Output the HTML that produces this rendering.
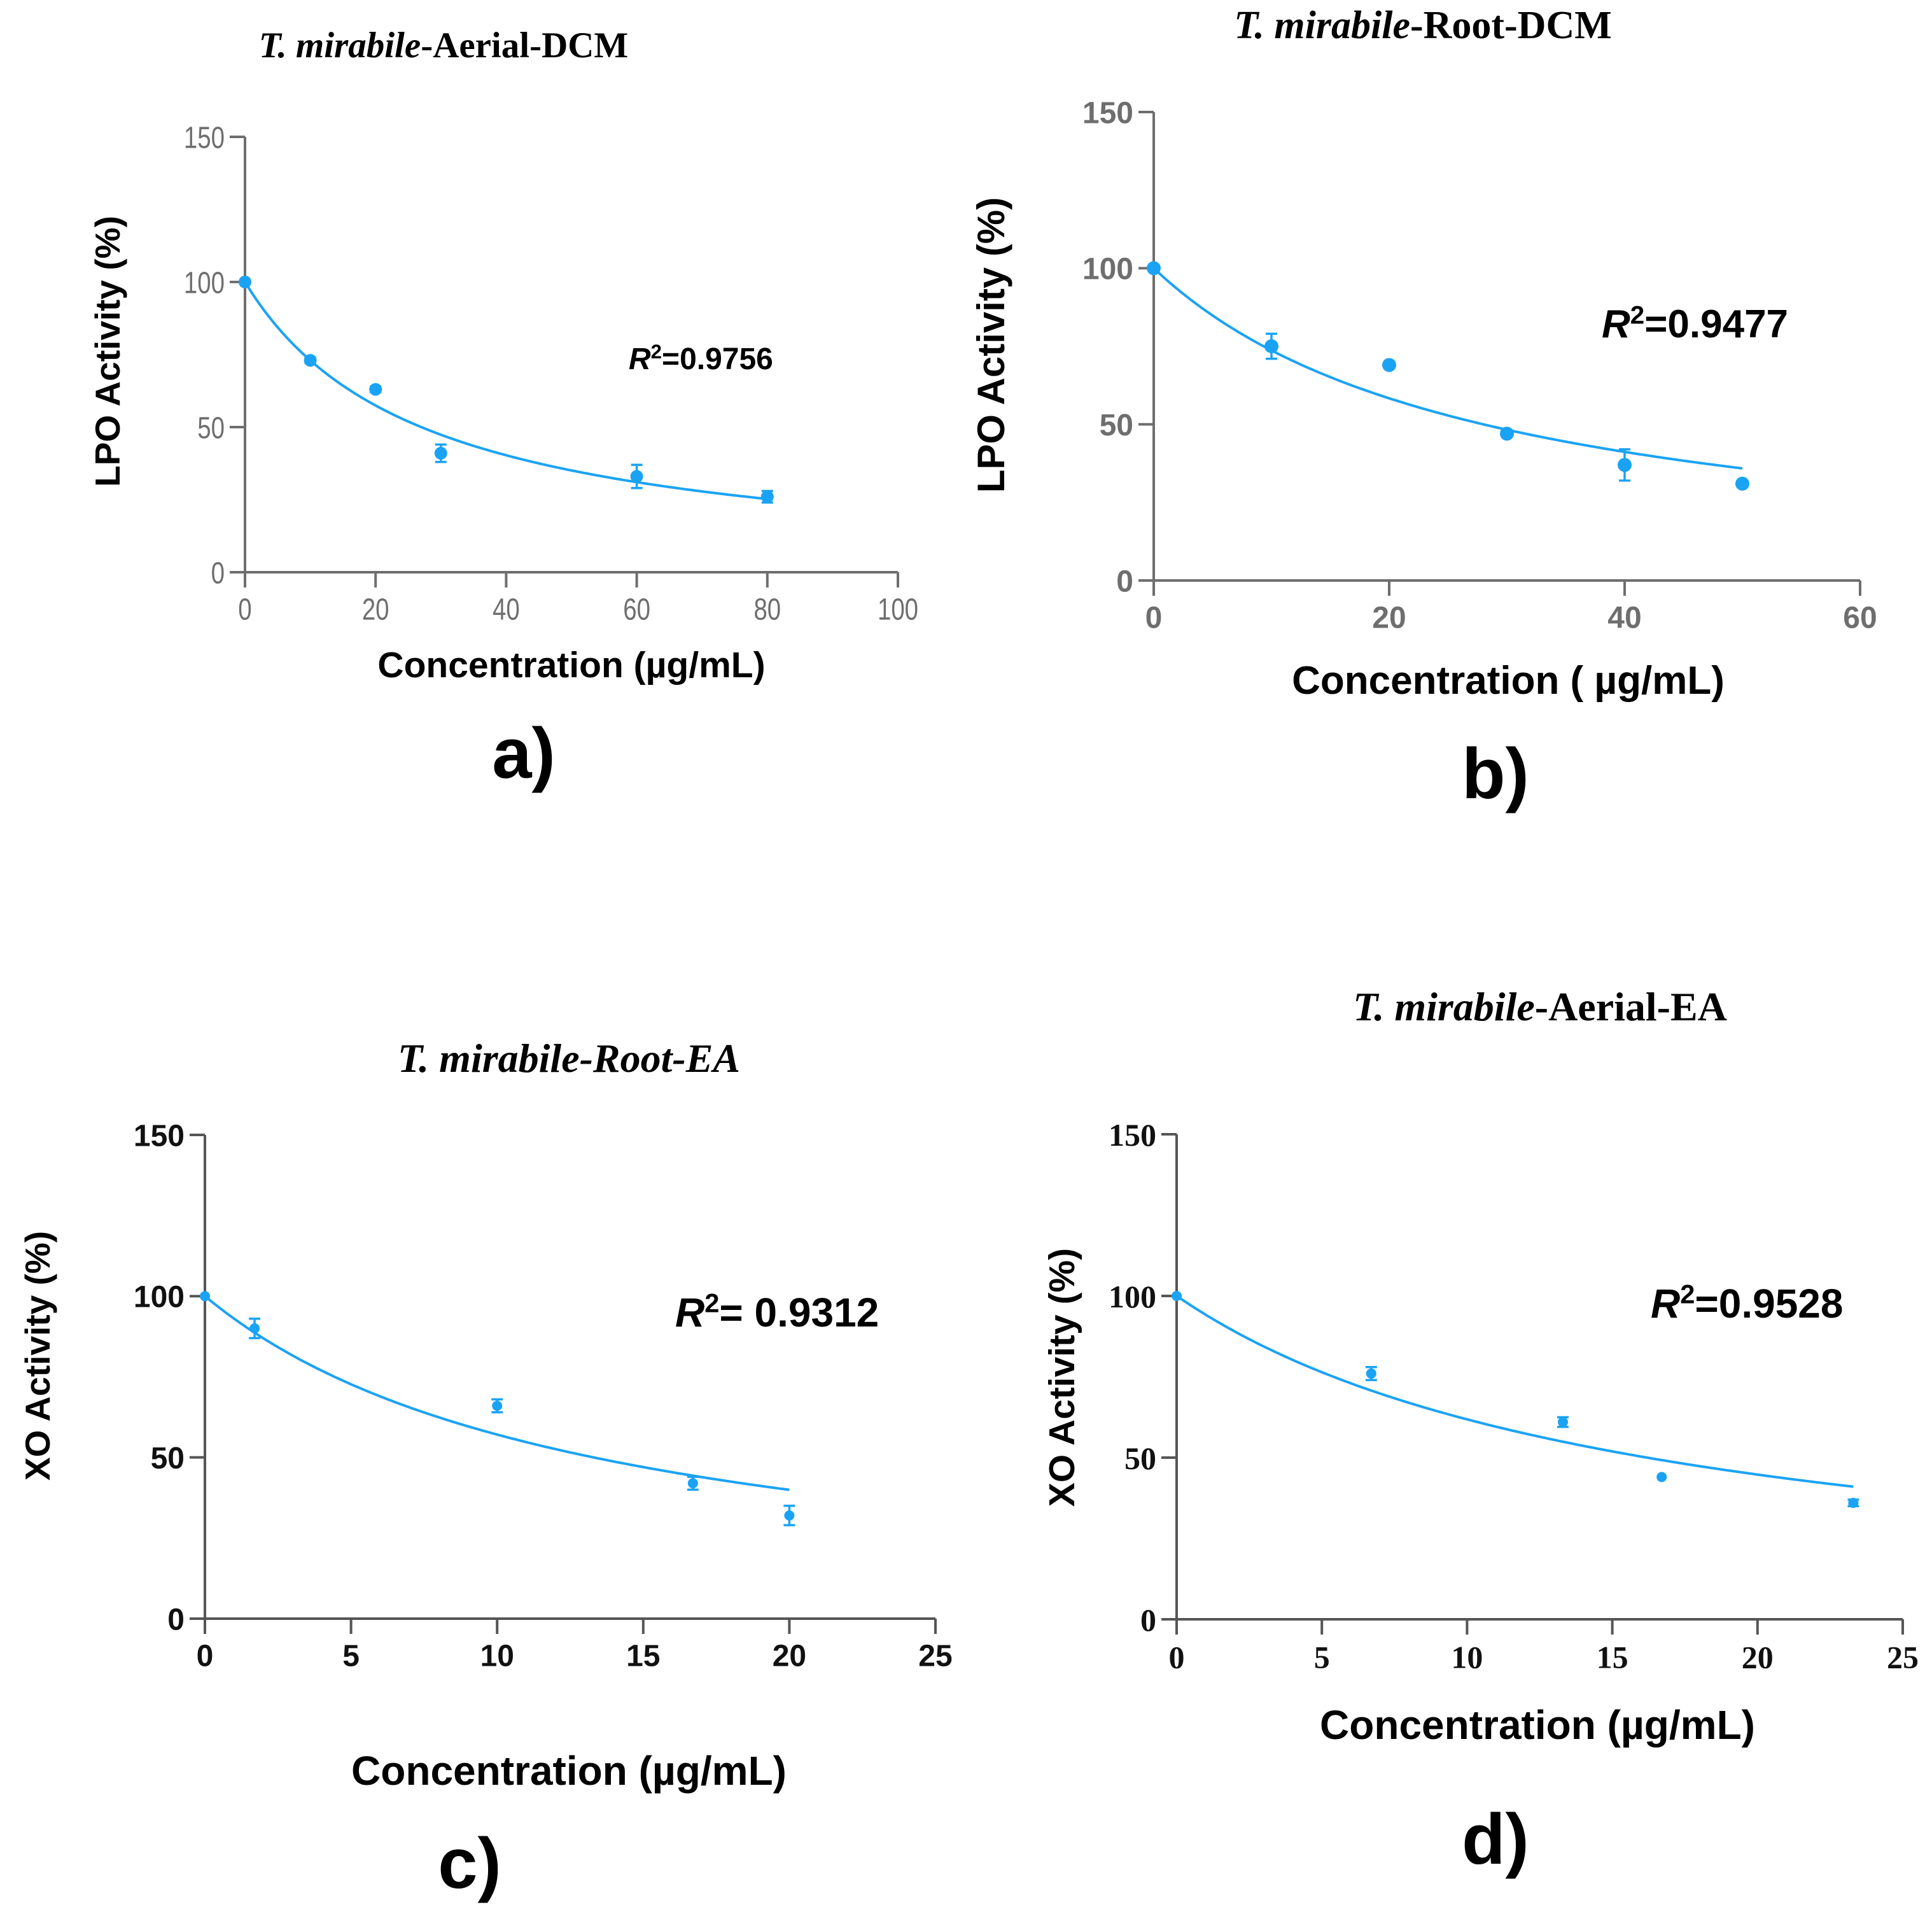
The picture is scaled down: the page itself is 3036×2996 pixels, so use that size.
<!DOCTYPE html>
<html><head><meta charset="utf-8">
<style>
html,body{margin:0;padding:0;background:#fff;}
svg{display:block;}
</style></head>
<body>
<svg id="fig" xmlns="http://www.w3.org/2000/svg" width="3036" height="2996" viewBox="0 0 3036 2996">
<rect width="3036" height="2996" fill="#fff"/>
</svg>
<script>
// Panel a data
const aX = [0, 10, 20, 30, 60, 80];
const aY = [100, 73, 63, 41, 33, 26];
const aErr = [0, 1, 1, 3, 4, 2];
const aXTicks = [0, 20, 40, 60, 80, 100];
const aYTicks = [0, 50, 100, 150];
const aK = 27; const aXEnd = 80;
// Panel b data
const bX = [0, 10, 20, 30, 40, 50];
const bY = [100, 75, 69, 47, 37, 31];
const bErr = [0, 4, 1, 1, 5, 1];
const bXTicks = [0, 20, 40, 60];
const bYTicks = [0, 50, 100, 150];
const bK = 28; const bXEnd = 50;
// Panel c data
const cX = [0, 1.7, 10, 16.7, 20];
const cY = [100, 90, 66, 42, 32];
const cErr = [0, 3, 2, 2, 3];
const cXTicks = [0, 5, 10, 15, 20, 25];
const cYTicks = [0, 50, 100, 150];
const cK = 13.3; const cXEnd = 20;
// Panel d data
const dX = [0, 6.7, 13.3, 16.7, 23.3];
const dY = [100, 76, 61, 44, 36];
const dErr = [0, 2, 1.5, 0, 1];
const dXTicks = [0, 5, 10, 15, 20, 25];
const dYTicks = [0, 50, 100, 150];
const dK = 16.2; const dXEnd = 23.3;

const NS = 'http://www.w3.org/2000/svg';
const svg = document.getElementById('fig');
const BLUE = '#1aa3f5';

function mk(tag, attrs, parent, text) {
  const e = document.createElementNS(NS, tag);
  for (const k in attrs) e.setAttribute(k, attrs[k]);
  if (text !== undefined) e.textContent = text;
  (parent || svg).appendChild(e);
  return e;
}

function panel(cfg) {
  const g = mk('g', {});
  
  
  const sx = v => cfg.x0 + v / cfg.xMax * (cfg.x1 - cfg.x0);
  const sy = v => cfg.y0 - v / 150 * (cfg.y0 - cfg.y1);
  const ax = cfg.axisColor;
  const ya = mk('line', {x1: cfg.x0, y1: cfg.y1, x2: cfg.x0, y2: cfg.y0, stroke: ax, 'stroke-width': 4}, g);
  
  
  const xa = mk('line', {x1: cfg.x0 - 24, y1: cfg.y0, x2: cfg.x1, y2: cfg.y0, stroke: ax, 'stroke-width': 4}, g);
  
  
  cfg.yTicks.forEach(t => {
    mk('line', {x1: cfg.x0 - 24, y1: sy(t), x2: cfg.x0, y2: sy(t), stroke: ax, 'stroke-width': 4}, g);
    const tl = mk('text', {x: cfg.x0 - 32, y: sy(t) + cfg.tickFs * 0.36, 'text-anchor': 'end', 'font-family': cfg.tickFont, 'font-size': cfg.tickFs, 'font-weight': cfg.tickWeight, fill: cfg.tickColor, transform: cfg.tickSquash ? `translate(${cfg.x0 - 32},0) scale(0.8,1) translate(${-(cfg.x0 - 32)},0)` : ''}, g, String(t));
    
    
  });
  cfg.xTicks.forEach(t => {
    mk('line', {x1: sx(t), y1: cfg.y0, x2: sx(t), y2: cfg.y0 + 24, stroke: ax, 'stroke-width': 4}, g);
    const tl = mk('text', {x: sx(t), y: cfg.y0 + 24 + cfg.tickFs * 1.05, 'text-anchor': 'middle', 'font-family': cfg.tickFont, 'font-size': cfg.tickFs, 'font-weight': cfg.tickWeight, fill: cfg.tickColor, transform: cfg.tickSquash ? `translate(${sx(t)},0) scale(0.8,1) translate(${-sx(t)},0)` : ''}, g, String(t));
    
    
  });
  let d = '';
  for (let i = 0; i <= 200; i++) {
    const xv = cfg.xEnd * i / 200;
    const yv = 100 / (1 + xv / cfg.k);
    d += (i ? 'L' : 'M') + sx(xv).toFixed(1) + ',' + sy(yv).toFixed(1);
  }
  const c = mk('path', {d: d, fill: 'none', stroke: BLUE, 'stroke-width': 4}, g);
  
  
  cfg.xs.forEach((xv, i) => {
    const px = sx(xv), py = sy(cfg.ys[i]), e = cfg.errs[i];
    if (e > 0) {
      const eb = mk('path', {d: `M${px},${sy(cfg.ys[i] + e)}V${sy(cfg.ys[i] - e)}M${px - 9},${sy(cfg.ys[i] + e)}h18M${px - 9},${sy(cfg.ys[i] - e)}h18`, stroke: BLUE, 'stroke-width': 3.5, fill: 'none'}, g);
      
      
    }
    const p = mk('circle', {cx: px, cy: py, r: cfg.r, fill: BLUE}, g);
    
    
  });
  const t = mk('text', {x: cfg.titleX, y: cfg.titleY, 'text-anchor': 'middle', 'font-family': '"Liberation Serif", serif', 'font-size': cfg.titleFs, 'font-weight': 'bold'}, g);
  
  
  mk('tspan', {'font-style': 'italic'}, t, cfg.title[0]);
  mk('tspan', {'font-style': cfg.titleAllItalic ? 'italic' : 'normal'}, t, cfg.title[1]);
  const yl = mk('text', {x: 0, y: 0, transform: `translate(${cfg.ylX},${cfg.ylY}) rotate(-90)`, 'text-anchor': 'middle', 'font-family': '"Liberation Sans", sans-serif', 'font-size': cfg.labFs, 'font-weight': 'bold'}, g, cfg.yLabel);
  
  
  const xl = mk('text', {x: cfg.xlX, y: cfg.xlY, 'text-anchor': 'middle', 'font-family': '"Liberation Sans", sans-serif', 'font-size': cfg.xlFs, 'font-weight': 'bold'}, g, cfg.xLabel);
  
  
  const r2 = mk('text', {x: cfg.r2X, y: cfg.r2Y, 'font-family': '"Liberation Sans", sans-serif', 'font-size': cfg.r2Fs, 'font-weight': 'bold'}, g);
  
  
  mk('tspan', {'font-style': 'italic'}, r2, 'R');
  mk('tspan', {dy: -cfg.r2Fs * 0.35, 'font-size': cfg.r2Fs * 0.65}, r2, '2');
  mk('tspan', {dy: cfg.r2Fs * 0.35}, r2, cfg.r2);
  const pl = mk('text', {x: cfg.plX, y: cfg.plY, 'text-anchor': 'middle', 'font-family': '"Liberation Sans", sans-serif', 'font-size': 112, 'font-weight': 'bold'}, g, cfg.id + ')');
  
  
}

panel({id: 'a', x0: 385, x1: 1411, xMax: 100, y0: 899, y1: 215, xs: aX, ys: aY, errs: aErr, xTicks: aXTicks, yTicks: aYTicks, k: aK, xEnd: aXEnd, r: 10,
  axisColor: '#6e6e6e', tickColor: '#6e6e6e', tickFont: '"Liberation Sans", sans-serif', tickFs: 48, tickWeight: 'normal', tickSquash: true,
  title: ['T. mirabile', '-Aerial-DCM'], titleX: 697, titleY: 90, titleFs: 57,
  yLabel: 'LPO Activity (%)', ylX: 188, ylY: 552, labFs: 55, xLabel: 'Concentration (µg/mL)', xlX: 898, xlY: 1064, xlFs: 57,
  r2: '=0.9756', r2X: 988, r2Y: 580, r2Fs: 48, plX: 823, plY: 1222});
panel({id: 'b', x0: 1813, x1: 2923, xMax: 60, y0: 912, y1: 176, xs: bX, ys: bY, errs: bErr, xTicks: bXTicks, yTicks: bYTicks, k: bK, xEnd: bXEnd, r: 11,
  axisColor: '#6e6e6e', tickColor: '#6e6e6e', tickFont: '"Liberation Sans", sans-serif', tickFs: 48, tickWeight: 'bold', tickSquash: false,
  title: ['T. mirabile', '-Root-DCM'], titleX: 2236, titleY: 60, titleFs: 62,
  yLabel: 'LPO Activity (%)', ylX: 1578, ylY: 542, labFs: 60, xLabel: 'Concentration ( µg/mL)', xlX: 2370, xlY: 1090, xlFs: 62,
  r2: '=0.9477', r2X: 2517, r2Y: 530, r2Fs: 62, plX: 2350, plY: 1254});
panel({id: 'c', x0: 322, x1: 1470, xMax: 25, y0: 2543, y1: 1783, xs: cX, ys: cY, errs: cErr, xTicks: cXTicks, yTicks: cYTicks, k: cK, xEnd: cXEnd, r: 8,
  axisColor: '#555', tickColor: '#111', tickFont: '"Liberation Sans", sans-serif', tickFs: 48, tickWeight: 'bold', tickSquash: false,
  title: ['T. mirabile-Root-EA', ''], titleAllItalic: true, titleX: 894, titleY: 1684, titleFs: 64,
  yLabel: 'XO Activity (%)', ylX: 78, ylY: 2130, labFs: 55, xLabel: 'Concentration (µg/mL)', xlX: 894, xlY: 2804, xlFs: 64,
  r2: '= 0.9312', r2X: 1061, r2Y: 2084, r2Fs: 64, plX: 738, plY: 2966});
panel({id: 'd', x0: 1849, x1: 2990, xMax: 25, y0: 2544, y1: 1782, xs: dX, ys: dY, errs: dErr, xTicks: dXTicks, yTicks: dYTicks, k: dK, xEnd: dXEnd, r: 8,
  axisColor: '#555', tickColor: '#111', tickFont: '"Liberation Serif", serif', tickFs: 50, tickWeight: 'bold', tickSquash: false,
  title: ['T. mirabile', '-Aerial-EA'], titleX: 2420, titleY: 1603, titleFs: 64,
  yLabel: 'XO Activity (%)', ylX: 1688, ylY: 2164, labFs: 57, xLabel: 'Concentration (µg/mL)', xlX: 2416, xlY: 2732, xlFs: 64,
  r2: '=0.9528', r2X: 2594, r2Y: 2070, r2Fs: 64, plX: 2350, plY: 2928});
</script>
</body></html>
